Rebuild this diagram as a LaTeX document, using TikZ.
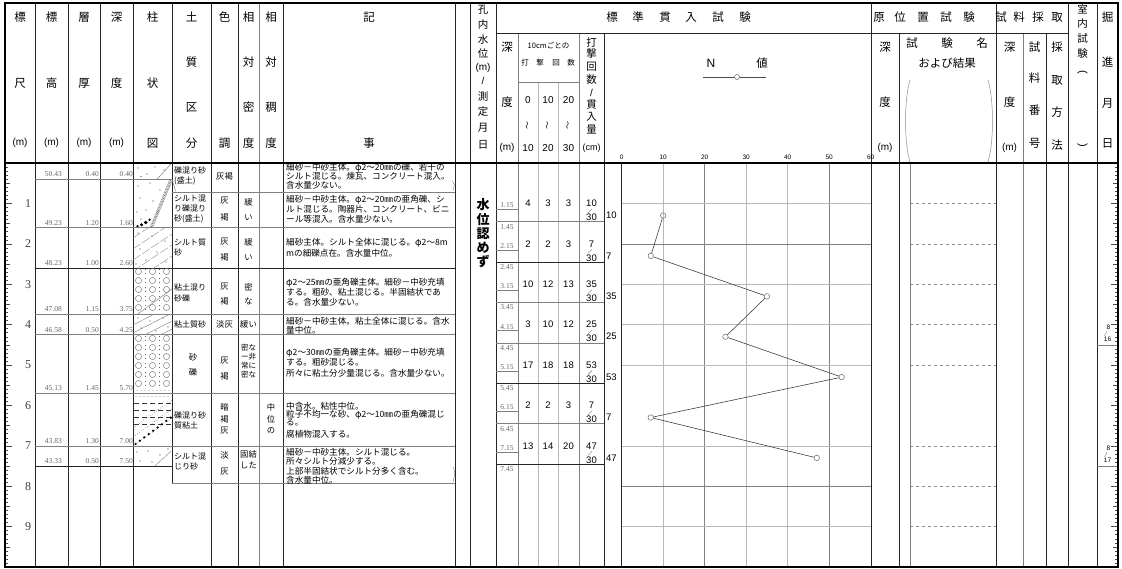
\documentclass[tikz,border=0pt]{standalone}
\usepackage{fontspec}
\setmainfont{Liberation Serif}
\newfontfamily\jp{Noto Sans CJK JP}
\newfontfamily\sfn{Liberation Sans}
\newfontfamily\sfr{Liberation Serif}
\tikzset{
  hd/.style={font=\jp\fontsize{11.5}{11.5}\selectfont, inner sep=0pt},
  hds/.style={font=\jp\fontsize{10.5}{10.5}\selectfont, inner sep=0pt},
  hdm/.style={font=\sfn\fontsize{10}{10}\selectfont, inner sep=0pt},
  soil/.style={font=\jp\fontsize{8}{8}\selectfont, inner sep=0pt, anchor=west},
  cell/.style={font=\jp\fontsize{8.3}{8.3}\selectfont, inner sep=0pt},
  kiji/.style={font=\jp\fontsize{8.6}{8.6}\selectfont, inner sep=0pt, anchor=west},
  num/.style={font=\sfr\fontsize{7.5}{7.5}\selectfont, text=black!60, inner sep=0pt},
  cnt/.style={font=\sfn\fontsize{9.5}{9.5}\selectfont, inner sep=0pt},
  scl/.style={font=\sfr\fontsize{12}{12}\selectfont, text=black!75, inner sep=0pt},
  axl/.style={font=\sfn\fontsize{6.5}{6.5}\selectfont, inner sep=0pt},
  frame/.style={line width=1.3pt, black},
  vl/.style={line width=0.6pt, black!85},
  gl/.style={line width=0.5pt, black!50},
  lg/.style={line width=0.45pt, black!28},
  tick/.style={line width=0.4pt, black!70},
  dotf/.style={fill=black!75},
  pt/.style={circle, draw=black!60, line width=0.5pt, minimum size=5.5pt, inner sep=0pt},
}
\begin{document}
\begin{tikzpicture}[x=1pt,y=-1pt]
\useasboundingbox (0,0) rectangle (1122,569);
\fill[white] (0,0) rectangle (1122,569);

% ---------------- grid of the graph ----------------
\foreach \k in {1,3,4} \draw[lg] ({621.7+41.5*\k},163) -- ({621.7+41.5*\k},567);
\foreach \k in {2,5} \draw[gl] ({621.7+41.5*\k},163) -- ({621.7+41.5*\k},567);
\foreach \d in {1,3,4,5,7,9} \draw[lg] (621.7,{163+40.4*\d}) -- (871,{163+40.4*\d});
\foreach \d in {2,8} \draw[gl] (621.7,{163+40.4*\d}) -- (871,{163+40.4*\d});
% dashed lines in test-name column
\foreach \d in {1,2,3,4,5,7,8,9} \draw[black!45, dashed, line width=0.5pt] (910,{163+40.4*\d}) -- (996,{163+40.4*\d});

% ---------------- vertical lines ----------------
\foreach \x in {35,68,100,133,211,238,283,455,470,496,871,996,1068,1097}
  \draw[vl] (\x,3) -- (\x,567);
\draw[gl] (259,3) -- (259,567);
\draw[vl] (172,3) -- (172,483);
\foreach \x in {604,899,1046} \draw[vl] (\x,33) -- (\x,567);
\foreach \x in {518,579,1023} \draw[gl] (\x,33) -- (\x,567);
\foreach \x in {538,558} \draw[lg] (\x,82) -- (\x,567);
\draw[vl] (621.7,163) -- (621.7,567);
\draw[gl] (910,163) -- (910,567);
\draw[vl] (496,33) -- (1068,33);
\draw[gl] (518,82) -- (579,82);

% ---------------- layer boundaries ----------------
\foreach \d in {0.40,1.60,3.75,4.25,5.70,7.00}
  \draw[gl] (35,{163+40.4*\d}) -- (172,{163+40.4*\d});
\foreach \d in {2.60,7.50}
  \draw[vl] (35,{163+40.4*\d}) -- (172,{163+40.4*\d});
\foreach \y in {192,227.6,314.5,334.7,393.3,445.8,483}
  \draw[gl] (172,\y) -- (455,\y);
\draw[vl] (172,268) -- (455,268);
\draw[gl] (172,179.2) -- (175.5,191);
\draw[black!55, line width=0.4pt] (452.5,181) .. controls (454.5,184) .. (453.5,190);
\draw[black!55, line width=0.4pt] (453.5,467) .. controls (455,474) .. (453,482);

% ---------------- SPT rows ----------------
\foreach \d in {1.45,3.45,4.45,6.45} \draw[gl] (496,{163+40.4*\d}) -- (604,{163+40.4*\d});
\foreach \d in {2.45,5.45,7.45} \draw[vl] (496,{163+40.4*\d}) -- (604,{163+40.4*\d});
\foreach \d in {1.15,2.15,3.15,4.15,5.15,6.15,7.15} \draw[gl] (496,{163+40.4*\d}) -- (518,{163+40.4*\d});
\foreach \d in {1,...,7} {
  \node[num] at (507,{163+40.4*(\d+0.15)-4}) {\d.15};
  \node[num] at (507,{163+40.4*(\d+0.45)+5}) {\d.45};
}

% ---------------- ticks ----------------
\foreach \i in {1,...,99} {
  \pgfmathsetmacro\tl{ifthenelse(mod(\i,10)==0,7,ifthenelse(mod(\i,5)==0,5,3))}
  \draw[tick] (5,{163+4.04*\i}) -- ++(\tl,0);
  \draw[tick] (1118,{163+4.04*\i}) -- ++(-\tl,0);
}
\draw[gl] (1097,344.8) -- (1118,344.8);
\draw[gl] (1097,466) -- (1118,466);

% ---------------- frame ----------------
\draw[frame] (5,163) -- (1118,163);
\draw[frame] (5,3) rectangle (1118,567);

% ---------------- header: left ----------------
\node[hd] at (20,17) {標}; \node[hd] at (20,83) {尺}; \node[hdm] at (20,143) {(m)};
\node[hd] at (51.5,17) {標}; \node[hd] at (51.5,83) {高}; \node[hdm] at (51.5,143) {(m)};
\node[hd] at (84,17) {層}; \node[hd] at (84,83) {厚}; \node[hdm] at (84,143) {(m)};
\node[hd] at (116.5,17) {深}; \node[hd] at (116.5,83) {度}; \node[hdm] at (116.5,143) {(m)};
\node[hd] at (152.5,17) {柱}; \node[hd] at (152.5,83) {状}; \node[hd] at (152.5,143) {図};
\node[hd] at (191.5,17) {土}; \node[hd] at (191.5,62) {質}; \node[hd] at (191.5,107) {区}; \node[hd] at (191.5,143) {分};
\node[hd] at (224.5,17) {色}; \node[hd] at (224.5,143) {調};
\node[hd] at (248.5,17) {相}; \node[hd] at (248.5,62) {対}; \node[hd] at (248.5,107) {密}; \node[hd] at (248.5,143) {度};
\node[hd] at (271,17) {相}; \node[hd] at (271,62) {対}; \node[hd] at (271,107) {稠}; \node[hd] at (271,143) {度};
\node[hd] at (369,17) {記}; \node[hd] at (369,143) {事};

% 孔内水位
\node[hds] at (483,10) {孔}; \node[hds] at (483,25) {内}; \node[hds] at (483,40) {水};
\node[hds] at (483,54) {位}; \node[hdm] at (483,68) {(m)}; \node[hdm] at (483,81) {/};
\node[hds] at (483,97) {測}; \node[hds] at (483,112) {定}; \node[hds] at (483,128) {月};
\node[hds] at (483,145) {日};

% 標準貫入試験
\foreach \c/\x in {標/612,準/638,貫/665,入/691,試/718,験/745} \node[hd] at (\x,17) {\c};
\node[hd] at (507,47) {深}; \node[hd] at (507,102) {度}; \node[hdm] at (507,148) {(m)};
\node[font=\jp\fontsize{7.5}{7.5}\selectfont, inner sep=0pt] at (548.5,45) {10cmごとの};
\foreach \c/\x in {打/525,撃/540,回/556,数/571} \node[font=\jp\fontsize{7.5}{7.5}\selectfont, inner sep=0pt] at (\x,63) {\c};
\foreach \t/\x in {0/528,10/548,20/568.5} \node[hdm] at (\x,100) {\t};
\foreach \x in {528,548,568.5} \node[inner sep=0pt] at (\x,126) {\rotatebox{90}{\jp\fontsize{8}{8}\selectfont ～}};
\foreach \t/\x in {10/528,20/548,30/568.5} \node[hdm] at (\x,148) {\t};
\foreach \c/\y in {打/42,撃/54,回/67,数/80} \node[hds] at (591.5,\y) {\c};
\node[hdm] at (591.5,93) {/};
\foreach \c/\y in {貫/105,入/117,量/130} \node[hds] at (591.5,\y) {\c};
\node[font=\sfn\fontsize{9}{9}\selectfont, inner sep=0pt] at (591.5,148) {(cm)};
% N value legend
\node[font=\sfn\fontsize{12}{12}\selectfont, inner sep=0pt] (nlab) at (711,63) {N};
\node[hd] (vlab) at (762,63) {値};
\coordinate (lgA) at (703,77);
\coordinate (lgB) at (766,77);
\draw[black!70, line width=0.6pt] (lgA) -- (lgB);
\node[pt, minimum size=5pt, fill=white] (lgC) at (737,77) {};
\foreach \k in {0,1,...,6} \node[axl] at ({621.7+41.5*\k},157) {\the\numexpr\k*10\relax};

% 原位置試験
\foreach \c/\x in {原/879,位/900,置/923,試/946,験/969} \node[hd] at (\x,17) {\c};
\node[hd] at (885,47) {深}; \node[hd] at (885,102) {度}; \node[hdm] at (885,148) {(m)};
\foreach \c/\x in {試/912,験/947,名/982} \node[hd] at (\x,43) {\c};
\node[hd] at (947,63) {および結果};
\draw[black!45, line width=0.5pt] (910,80) .. controls (904,100) and (904,142) .. (910,162);
\draw[black!45, line width=0.5pt] (988,80) .. controls (994,100) and (994,142) .. (988,162);

% 試料採取
\foreach \c/\x in {試/1001,料/1019,採/1038,取/1057} \node[hd] at (\x,17) {\c};
\node[hd] at (1009.5,47) {深}; \node[hd] at (1009.5,102) {度}; \node[hdm] at (1009.5,148) {(m)};
\foreach \c/\y in {試/47,料/78,番/110,号/143} \node[hd] at (1034.5,\y) {\c};
\foreach \c/\y in {採/47,取/80,方/112,法/145} \node[hd] at (1057,\y) {\c};
% 室内試験
\foreach \c/\y in {室/9,内/24,試/39,験/54} \node[hds] at (1082.5,\y) {\c};
\node[inner sep=0pt] at (1082.5,72) {\rotatebox{-90}{\sfn\fontsize{11}{11}\selectfont (}};
\node[inner sep=0pt] at (1082.5,145) {\rotatebox{-90}{\sfn\fontsize{11}{11}\selectfont )}};
% 掘進月日
\foreach \c/\y in {掘/17,進/62,月/103,日/143} \node[hd] at (1107.5,\y) {\c};

% ---------------- scale numbers ----------------
\foreach \k in {1,...,9} \node[scl] at (28,{163+40.4*\k}) {\k};

% ---------------- elevations / thickness / depth ----------------
\foreach \e/\t/\d in {50.43/0.40/0.40, 49.23/1.20/1.60, 48.23/1.00/2.60, 47.08/1.15/3.75,
                      46.58/0.50/4.25, 45.13/1.45/5.70, 43.83/1.30/7.00, 43.33/0.50/7.50} {
  \node[num, anchor=east] at (62,{163+40.4*\d-5}) {\e};
  \node[num, anchor=east] at (99,{163+40.4*\d-5}) {\t};
  \node[num, anchor=east] at (133,{163+40.4*\d-5}) {\d};
}

% ---------------- columnar section patterns ----------------
% layer 1
\begin{scope}
\clip (133,163) rectangle (172,179.2);
\foreach \p in {(138,168),(147,174),(155,167),(141,176.5),(164,170)} \fill[dotf] \p circle (0.55);
\draw[black!55] (157,179.2) -- (171,164);
\end{scope}
% layer 2
\begin{scope}
\clip (133,179.2) rectangle (172,227.6);
\foreach \p in {(138,186),(150,183),(160,190),(140,198),(153,201),(146,210),(137,212),(158,212),(141,219)} \fill[dotf] \p circle (0.55);
\draw[black!50, line width=0.35pt] (169.5,180) -- (150,227.6);
\draw[black!50, line width=0.35pt] (172,181) -- (152.5,227.6);
\draw[black!60, line width=1.5pt, dash pattern=on 0.6pt off 1pt] (170.8,180.5) -- (151.3,227.6);
\fill[black] (137.5,226.2) circle (1.3);
\fill[black] (141.5,224.8) circle (1.7);
\fill[black] (145.8,222.5) circle (1.9);
\fill[black] (149.5,219.8) circle (1.3);
\end{scope}
% layer 3
\begin{scope}
\clip (133,227.6) rectangle (172,268);
\foreach \o in {0,11,22,33,44} \draw[black!50, dash pattern=on 9pt off 2pt] (133,{238+\o}) -- (172,{212+\o});
\foreach \p in {(138,233),(152,236),(165,241),(140,249),(157,252),(146,260),(166,262),(136,264)} \fill[dotf] \p circle (0.55);
\end{scope}
% layer 4
\begin{scope}
\clip (133,268) rectangle (172,314.5);
\foreach \cy in {271.5,280.5,289.5,298.5,307.5} {
  \foreach \cx in {138.5,152.5,166.5} \draw[black!55, line width=0.45pt] (\cx,\cy) circle (3.1);
  \foreach \cx in {145.5,159.5} {\fill[dotf] (\cx,{\cy-1.8}) circle (0.5); \fill[dotf] (\cx,{\cy+1.8}) circle (0.5);}
}
\draw[black!55] (137,314.5) -- (172,289);
\end{scope}
% layer 5
\begin{scope}
\clip (133,314.5) rectangle (172,334.7);
\foreach \o in {0,8,16,24} \draw[black!50] (133,{325+\o}) -- (172,{305+\o});
\foreach \p in {(138,318),(150,321),(163,318),(141,328),(156,331),(168,327)} \fill[dotf] \p circle (0.55);
\end{scope}
% layer 6
\begin{scope}
\clip (133,334.7) rectangle (172,393.3);
\foreach \cy in {338.5,347.5,356.5,365.5,374.5,383.5} {
  \foreach \cx in {138.5,152.5,166.5} \draw[black!55, line width=0.45pt] (\cx,\cy) circle (3.1);
  \foreach \cx in {145.5,159.5} {\fill[dotf] (\cx,{\cy-1.8}) circle (0.5); \fill[dotf] (\cx,{\cy+1.8}) circle (0.5);}
}
\foreach \cx in {137,141,145,149,153,157,161,165,169} \fill[dotf] (\cx,390.5) circle (0.45);
\end{scope}
% layer 7
\begin{scope}
\clip (133,393.3) rectangle (172,445.8);
\foreach \cx in {136,140,144,148,152,156,160,164,168} \fill[dotf] (\cx,396.5) circle (0.4);
\foreach \cy in {403,410,417,424} \draw[black!80, line width=0.6pt, dash pattern=on 5pt off 3pt] (134,\cy) -- (172,\cy);
\foreach \o in {0,9,18} \draw[black!60, line width=0.6pt, dotted] (133,{428+\o}) -- (172,{400+\o});
\foreach \i in {0,...,8} \fill[black] ({135.5+4.4*\i},{444-3.3*\i}) circle (1.25);
\end{scope}
% layer 8
\begin{scope}
\clip (133,445.8) rectangle (172,466);
\foreach \p in {(137,452),(148,451),(160,455),(140,461),(152,462),(168,449)} \fill[dotf] \p circle (0.55);
\draw[black!50] (155,466) -- (171,451);
\end{scope}

% ---------------- soil names ----------------
\node[soil] at (174,170) {礫混り砂};
\node[soil] at (174,181) {(盛土)};
\node[soil] at (174,198) {シルト混};
\node[soil] at (174,208.5) {り礫混り};
\node[soil] at (174,219) {砂(盛土)};
\node[soil] at (174,242) {シルト質};
\node[soil] at (174,253) {砂};
\node[soil] at (174,287) {粘土混り};
\node[soil] at (174,298) {砂礫};
\node[soil] at (174,324.6) {粘土質砂};
\node[cell] at (193,357) {砂};
\node[cell] at (193,372) {礫};
\node[soil] at (174,415) {礫混り砂};
\node[soil] at (174,425) {質粘土};
\node[soil] at (174,456) {シルト混};
\node[soil] at (174,466) {じり砂};

% colour
\node[cell] at (224.5,176) {灰褐};
\foreach \c/\y in {灰/201,褐/217,灰/242,褐/257,灰/287,褐/301,灰/361,褐/376,暗/407,褐/419,灰/431,淡/455,灰/472}
  \node[cell] at (224.5,\y) {\c};
\node[cell] at (224.5,324.6) {淡灰};
% relative density
\foreach \c/\y in {緩/202,い/218,緩/242,い/258,密/287,な/301}
  \node[cell] at (248.5,\y) {\c};
\node[cell] at (248.5,324.6) {緩い};
\foreach \t/\y in {密な/348,ー非/357,常に/366,密な/375}
  \node[font=\jp\fontsize{7.5}{7.5}\selectfont, inner sep=0pt] at (248.5,\y) {\t};
\node[cell] at (248.5,454) {固結};
\node[cell] at (248.5,465) {した};
% consistency
\foreach \c/\y in {中/407,位/419,の/431} \node[cell] at (271,\y) {\c};

% ---------------- remarks ----------------
\node[kiji] at (286,167.5) {細砂－中砂主体。φ2～20㎜の礫、若干の};
\node[kiji] at (286,176.5) {シルト混じる。煉瓦、コンクリート混入。};
\node[kiji] at (286,185.5) {含水量少ない。};
\node[kiji] at (286,200) {細砂－中砂主体。φ2～20㎜の亜角礫、シ};
\node[kiji] at (286,209.5) {ルト混じる。陶器片、コンクリート、ビニ};
\node[kiji] at (286,219) {ール等混入。含水量少ない。};
\node[kiji] at (286,243) {細砂主体。シルト全体に混じる。φ2～8m};
\node[kiji] at (286,253) {mの細礫点在。含水量中位。};
\node[kiji] at (286,283) {φ2～25㎜の亜角礫主体。細砂－中砂充填};
\node[kiji] at (286,292.5) {する。粗砂、粘土混じる。半固結状であ};
\node[kiji] at (286,302) {る。含水量少ない。};
\node[kiji] at (286,321) {細砂－中砂主体。粘土全体に混じる。含水};
\node[kiji] at (286,330) {量中位。};
\node[kiji] at (286,353) {φ2～30㎜の亜角礫主体。細砂－中砂充填};
\node[kiji] at (286,362.5) {する。粗砂混じる。};
\node[kiji] at (286,373) {所々に粘土分少量混じる。含水量少ない。};
\node[kiji] at (286,406.5) {中含水。粘性中位。};
\node[kiji] at (286,414.5) {粒子不均一な砂、φ2～10㎜の亜角礫混じ};
\node[kiji] at (286,422.5) {る。};
\node[kiji] at (286,434.5) {腐植物混入する。};
\node[kiji] at (286,452) {細砂－中砂主体。シルト混じる。};
\node[kiji] at (286,461.5) {所々シルト分減少する。};
\node[kiji] at (286,471) {上部半固結状でシルト分多く含む。};
\node[kiji] at (286,480.5) {含水量中位。};

% ---------------- ground water ----------------
\foreach \c/\y in {水/205,位/219.5,認/234,め/248,ず/261.5}
  \node[font=\jp\bfseries\fontsize{13}{13}\selectfont, inner sep=0pt] at (483,\y) {\c};

% ---------------- SPT counts ----------------
\foreach \k/\a/\b/\c/\n in {1/4/3/3/10, 2/2/2/3/7, 3/10/12/13/35, 4/3/10/12/25, 5/17/18/18/53, 6/2/2/3/7, 7/13/14/20/47} {
  \pgfmathsetmacro\yy{163+40.4*\k}
  \node[cnt] at (528,\yy) {\a};
  \node[cnt] at (548,\yy) {\b};
  \node[cnt] at (568.5,\yy) {\c};
  \node[cnt] at (591.5,\yy) {\n};
  \draw[black!55, line width=0.4pt] (588,{\yy+9.5}) -- (592,{\yy+5.5});
  \node[cnt] at (591.5,{\yy+14}) {30};
  \node[cnt, anchor=west] at (606,{\yy+12.1}) {\n};
}

% ---------------- N value plot ----------------
\foreach \i/\n in {1/10,2/7,3/35,4/25,5/53,6/7,7/47}
  \node[pt] (p\i) at ({621.7+4.15*\n},{163+40.4*(\i+0.3)}) {};
\draw[black!80, line width=0.55pt] (p1) -- (p2) -- (p3) -- (p4) -- (p5) -- (p6) -- (p7);

% ---------------- progress dates ----------------
\node[font=\sfn\fontsize{6.5}{6.5}\selectfont, inner sep=0pt] at (1108.5,327) {8};
\draw[black!55, line width=0.35pt] (1104.5,336) -- (1107,331);
\node[font=\sfn\fontsize{6.5}{6.5}\selectfont, inner sep=0pt] at (1107.5,339.5) {16};
\node[font=\sfn\fontsize{6.5}{6.5}\selectfont, inner sep=0pt] at (1108.5,448) {8};
\draw[black!55, line width=0.35pt] (1104.5,457) -- (1107,452);
\node[font=\sfn\fontsize{6.5}{6.5}\selectfont, inner sep=0pt] at (1107.5,460.5) {17};
\end{tikzpicture}
\end{document}
